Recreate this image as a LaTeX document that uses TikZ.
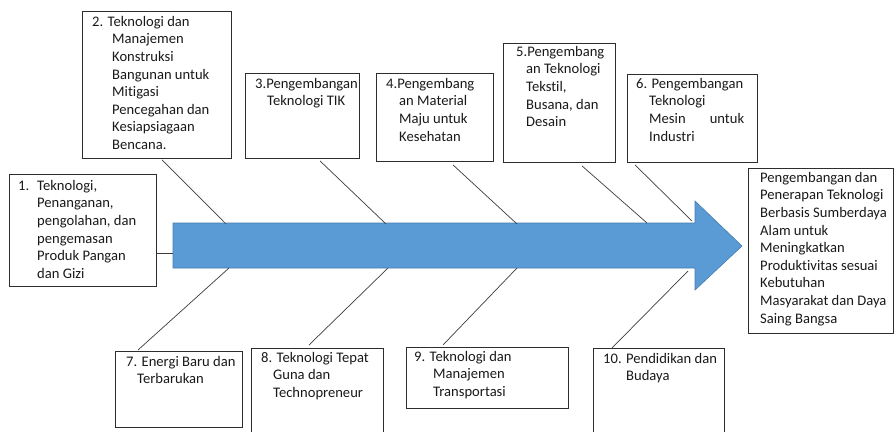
\documentclass[tikz,border=0pt]{standalone}
\usepackage{fontspec}
\setmainfont{Carlito}[Ligatures={NoCommon}]
\usetikzlibrary{calc}
\definecolor{arrowblue}{RGB}{91,155,213}
\definecolor{arrowedge}{RGB}{70,125,175}
\definecolor{boxline}{RGB}{45,45,45}
\definecolor{conline}{RGB}{60,60,60}
\definecolor{txtcol}{RGB}{25,25,25}
\begin{document}
\begin{tikzpicture}[x=1pt,y=-1pt,
  box/.style={draw=boxline, line width=0.9pt, inner sep=0pt, anchor=north west},
  txt/.style={inner sep=0pt, anchor=north west, align=left, text=txtcol,
    font=\fontsize{14.6}{17.6}\selectfont},
  con/.style={draw=conline, line width=0.7pt},
  bigarrow/.style={fill=arrowblue, draw=arrowedge, line width=0.6pt}]
\useasboundingbox (0,0) rectangle (894,431);
\newcommand{\st}{\rule{0pt}{11pt}}

% main arrow
\coordinate (s1) at (173,223);
\coordinate (s2) at (695,223);
\coordinate (h1) at (695,201);
\coordinate (tip) at (742,246);
\coordinate (h2) at (695,290);
\coordinate (s3) at (695,268);
\coordinate (s4) at (173,268);
\draw[bigarrow] (s1) -- (s2) -- (h1) -- (tip) -- (h2) -- (s3) -- (s4) -- cycle;

% boxes
\node[box, minimum width=147pt, minimum height=112pt] (b1) at (9,174) {};
\node[box, minimum width=149pt, minimum height=147pt] (b2) at (82,11) {};
\node[box, minimum width=114pt, minimum height=85pt]  (b3) at (245,73) {};
\node[box, minimum width=117pt, minimum height=88pt]  (b4) at (376,73) {};
\node[box, minimum width=112pt, minimum height=119pt] (b5) at (503,43) {};
\node[box, minimum width=130pt, minimum height=88pt]  (b6) at (627,74) {};
\node[box, minimum width=145pt, minimum height=165pt] (br) at (748,168) {};
\node[box, minimum width=127pt, minimum height=76pt]  (b7) at (115,351) {};
\node[box, minimum width=132pt, minimum height=100pt] (b8) at (251,348) {};
\node[box, minimum width=162pt, minimum height=61pt]  (b9) at (406,347) {};
\node[box, minimum width=131pt, minimum height=100pt] (b10) at (593,348) {};

% texts
\node[txt] (t1) at ([shift={(9,5)}]b1.north west)
 {\st\makebox[19pt][l]{1.}Teknologi,\\ \hspace*{19pt}Penanganan,\\ \hspace*{19pt}pengolahan, dan\\
  \hspace*{19pt}pengemasan\\ \hspace*{19pt}Produk Pangan\\ \hspace*{19pt}dan Gizi};
\node[txt] (t2) at ([shift={(10,4)}]b2.north west)
 {\st 2. Teknologi dan\\ \hspace*{20pt}Manajemen\\ \hspace*{20pt}Konstruksi\\ \hspace*{20pt}Bangunan untuk\\
  \hspace*{20pt}Mitigasi\\ \hspace*{20pt}Pencegahan dan\\ \hspace*{20pt}Kesiapsiagaan\\ \hspace*{20pt}Bencana.};
\node[txt] (t3) at ([shift={(10,4)}]b3.north west)
 {\st 3.Pengembangan\\ \hspace*{12pt}Teknologi TIK};
\node[txt] (t4) at ([shift={(10,4)}]b4.north west)
 {\st 4.Pengembang\\ \hspace*{13pt}an Material\\ \hspace*{13pt}Maju untuk\\ \hspace*{13pt}Kesehatan};
\node[txt] (t5) at ([shift={(13,2)}]b5.north west)
 {\st 5.Pengembang\\ \hspace*{10pt}an Teknologi\\ \hspace*{10pt}Tekstil,\\ \hspace*{10pt}Busana, dan\\ \hspace*{10pt}Desain};
\node[txt] (t6) at ([shift={(9,3)}]b6.north west)
 {\st 6. Pengembangan\\ \hspace*{13pt}Teknologi\\ \hspace*{13pt}\makebox[95pt][s]{Mesin\hfill untuk}\\ \hspace*{13pt}Industri};
\node[txt] (tr) at ([shift={(12,3)}]br.north west)
 {\st Pengembangan dan\\ Penerapan Teknologi\\ Berbasis Sumberdaya\\ Alam untuk\\ Meningkatkan\\
  Produktivitas sesuai\\ Kebutuhan\\ Masyarakat dan Daya\\ Saing Bangsa};
\node[txt] (t7) at ([shift={(11,4)}]b7.north west)
 {\st 7. Energi Baru dan\\ \hspace*{11pt}Terbarukan};
\node[txt] (t8) at ([shift={(10,3)}]b8.north west)
 {\st 8. Teknologi Tepat\\ \hspace*{12pt}Guna dan\\ \hspace*{12pt}Technopreneur};
\node[txt] (t9) at ([shift={(8,3)}]b9.north west)
 {\st 9. Teknologi dan\\ \hspace*{19pt}Manajemen\\ \hspace*{19pt}Transportasi};
\node[txt] (t10) at ([shift={(10,4)}]b10.north west)
 {\st 10. Pendidikan dan\\ \hspace*{23pt}Budaya};

% connectors
\coordinate (a2) at (226,224);
\coordinate (a3) at (386,224);
\coordinate (a4) at (517,224);
\coordinate (a5) at (647,223);
\coordinate (a6) at (692,221);
\coordinate (a7) at (229,268);
\coordinate (a8) at (388,268);
\coordinate (a9) at (517,268);
\coordinate (a10) at (688,271);
\coordinate (a1) at (173,253);

\draw[con] (b1.east |- a1) -- (a1);
\draw[con] ([shift={(80,1)}]b2.south west) -- (a2);
\draw[con] ([shift={(75,2)}]b3.south west) -- (a3);
\draw[con] ([shift={(77,3)}]b4.south west) -- (a4);
\draw[con] ([shift={(79,3)}]b5.south west) -- (a5);
\draw[con] ([shift={(8,2)}]b6.south west) -- (a6);
\draw[con] ([shift={(23,-1)}]b7.north west) -- (a7);
\draw[con] ([shift={(58,-3)}]b8.north west) -- (a8);
\draw[con] ([shift={(37,-2)}]b9.north west) -- (a9);
\draw[con] ([shift={(18,1)}]b10.north west) -- (a10);
\end{tikzpicture}
\end{document}
